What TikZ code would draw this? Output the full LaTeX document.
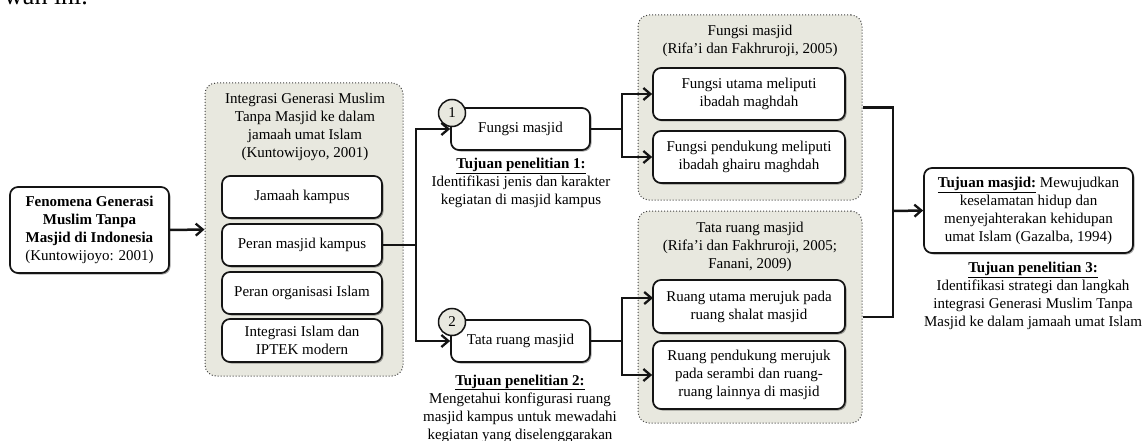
\documentclass[tikz,border=0pt]{standalone}
\usepackage{fontspec}
\setmainfont{Liberation Serif}
\usetikzlibrary{arrows.meta,shadows}
\definecolor{grp}{RGB}{232,232,223}
\definecolor{ln}{RGB}{20,20,20}
\begin{document}
\begin{tikzpicture}[x=1pt,y=-1pt,
  every node/.style={font=\fontsize{15}{18}\selectfont, align=center, inner sep=0pt},
  wbox/.style={draw=ln, line width=1.7pt, fill=white, rounded corners=8pt,
    drop shadow={shadow xshift=1.5pt, shadow yshift=-1.5pt, opacity=0.35, fill=black}},
  grpbox/.style={draw=black!75, dotted, line width=1pt, fill=grp, rounded corners=11pt},
  numc/.style={circle, draw=ln, line width=1.5pt, fill=grp, minimum size=27pt},
  conn/.style={draw=ln, line width=2.5pt},
  arr/.style={conn, -{Straight Barb[length=7pt,width=12pt,line width=2.3pt]}}
]
\useasboundingbox (0,0) rectangle (1145,441);

% fragment of page text
\node[anchor=base west, font=\fontsize{26}{28}\selectfont] (frag) at (4,5) {wah ini.};

% left box
\node[wbox, minimum width=159pt, minimum height=86pt] (fen) at (89.5,230)
  {\textbf{Fenomena Generasi}\\\textbf{Muslim Tanpa}\\\textbf{Masjid di Indonesia}\\(Kuntowijoyo: 2001)};

% group 1
\node[grpbox, minimum width=198pt, minimum height=293pt] (g1) at (304,229.5) {};
\node (g1t) at (305,127) {Integrasi Generasi Muslim\\Tanpa Masjid ke dalam\\jamaah umat Islam\\(Kuntowijoyo, 2001)};
\node[wbox, minimum width=160pt, minimum height=42pt] (jk) at (302,197) {Jamaah kampus};
\node[wbox, minimum width=160pt, minimum height=42pt] (pm) at (302,245) {Peran masjid kampus};
\node[wbox, minimum width=160pt, minimum height=42pt] (po) at (302,293) {Peran organisasi Islam};
\node[wbox, minimum width=160pt, minimum height=43pt] (ii) at (302,340.5) {Integrasi Islam dan\\IPTEK modern};

% middle boxes
\node[wbox, minimum width=139pt, minimum height=42pt] (fm) at (520.5,129) {Fungsi masjid};
\node[wbox, minimum width=139pt, minimum height=42pt] (tr) at (520.5,341) {Tata ruang masjid};
\node[numc] (n1) at (452,113) {1};
\node[numc] (n2) at (452,322) {2};
\node (tp1) at (521,183) {\underline{\textbf{Tujuan penelitian 1:}}\\Identifikasi jenis dan karakter\\kegiatan di masjid kampus};
\node (tp2) at (520,408.5) {\underline{\textbf{Tujuan penelitian 2:}}\\Mengetahui konfigurasi ruang\\masjid kampus untuk mewadahi\\kegiatan yang diselenggarakan};

% group 2
\node[grpbox, minimum width=224pt, minimum height=185pt] (g2) at (750,107.5) {};
\node (g2t) at (750,41) {Fungsi masjid\\(Rifa'i dan Fakhruroji, 2005)};
\node[wbox, minimum width=192pt, minimum height=52pt] (fa) at (749,94) {Fungsi utama meliputi\\ibadah maghdah};
\node[wbox, minimum width=192pt, minimum height=52pt] (fb) at (749,157) {Fungsi pendukung meliputi\\ibadah ghairu maghdah};

% group 3
\node[grpbox, minimum width=224pt, minimum height=212pt] (g3) at (750,317) {};
\node (g3t) at (750,247) {Tata ruang masjid\\(Rifa'i dan Fakhruroji, 2005;\\Fanani, 2009)};
\node[wbox, minimum width=192pt, minimum height=53pt] (rc) at (749,306.5) {Ruang utama merujuk pada\\ruang shalat masjid};
\node[wbox, minimum width=192pt, minimum height=68pt] (rd) at (749,375) {Ruang pendukung merujuk\\pada serambi dan ruang-\\ruang lainnya di masjid};

% right box
\node[wbox, minimum width=209pt, minimum height=85pt] (tm) at (1028.5,210.5)
  {\underline{\textbf{Tujuan masjid:}} Mewujudkan\\keselamatan hidup dan\\menyejahterakan kehidupan\\umat Islam (Gazalba, 1994)};
\node (tp3) at (1033,296) {\underline{\textbf{Tujuan penelitian 3:}}\\Identifikasi strategi dan langkah\\integrasi Generasi Muslim Tanpa\\Masjid ke dalam jamaah umat Islam};

% connectors
\draw[arr] (fen.east) -- (g1.west);

\coordinate (j1) at (416,245);
\draw[conn] (pm.east) -- (j1);
\draw[arr] (j1) |- (fm.west);
\draw[arr] (j1) |- (tr.west);

\coordinate (j2) at (622,129);
\draw[conn] (fm.east) -- (j2);
\draw[arr] (j2) |- (fa.west);
\draw[arr] (j2) |- (fb.west);

\coordinate (j3) at (622,341);
\coordinate (rct) at (653,298);
\draw[conn] (tr.east) -- (j3);
\draw[arr] (j3) |- (rct);
\draw[arr] (j3) |- (rd.west);

\coordinate (j4) at (893,211);
\draw[conn] (g2.east) -| (j4);
\draw[conn] (g3.east) -| (j4);
\draw[arr] (j4) -- (tm.west);
\end{tikzpicture}
\end{document}
